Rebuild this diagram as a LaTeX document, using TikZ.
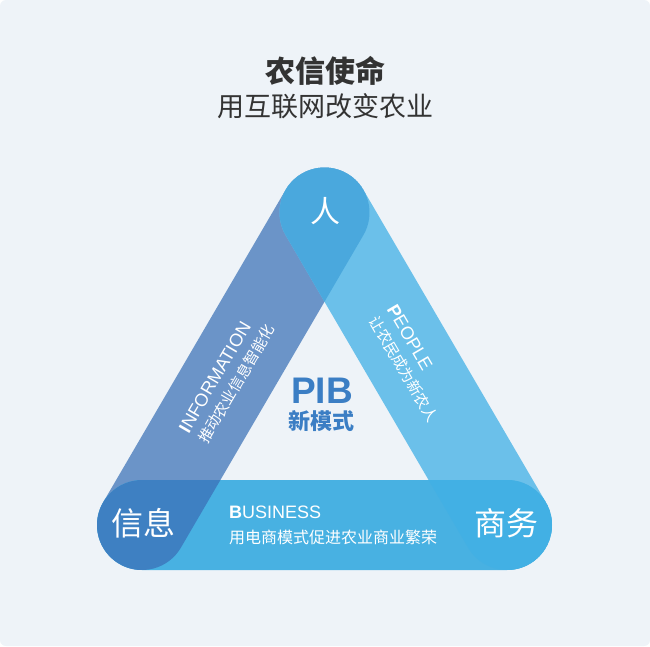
\documentclass[tikz,border=0pt]{standalone}
\usepackage{fontspec}
\setmainfont{Liberation Sans}
\newfontfamily\cjk{Noto Sans CJK SC}
\usepackage{tikz}
\usetikzlibrary{calc}

\definecolor{bgpanel}{HTML}{EEF3F8}
\definecolor{infoband}{HTML}{6B94C8}
\definecolor{peopleband}{HTML}{6BC0EA}
\definecolor{busband}{HTML}{48B1E2}
\definecolor{topmix}{HTML}{4AA8DD}
\definecolor{leftmix}{HTML}{3E80C2}
\definecolor{rightmix}{HTML}{42B0E4}
\definecolor{titlegray}{HTML}{333333}
\definecolor{pibblue}{HTML}{3B7EC4}

% rounded band between two centres, #3 = direction
\newcommand{\band}[3]{($(#1)+(#3+90:45)$) -- ($(#2)+(#3+90:45)$) arc[start angle=#3+90, delta angle=-180, radius=45] -- ($(#1)+(#3-90:45)$) arc[start angle=#3-90, delta angle=-180, radius=45] -- cycle}

\begin{document}
\begin{tikzpicture}[x=1pt,y=-1pt,
  title/.style={text=titlegray,inner sep=0,font=\cjk\bfseries\fontsize{30}{30}\selectfont},
  subtitle/.style={text=titlegray,inner sep=0,font=\cjk\fontsize{27}{27}\selectfont},
  corner/.style={text=white,inner sep=0,font=\cjk\fontsize{32}{32}\selectfont},
  bandhead/.style={anchor=west,text=white,inner sep=0,font=\fontsize{18}{18}\selectfont},
  bandsub/.style={anchor=west,text=white,inner sep=0,font=\cjk\fontsize{15}{15}\selectfont}]
  \useasboundingbox (0,0) rectangle (650,646);
  \fill[white] (0,0) rectangle (650,646);
  \fill[bgpanel,rounded corners=6] (0,0) rectangle (650,646);

  \coordinate (L) at (142,525);
  \coordinate (T) at (324.5,212.5);
  \coordinate (R) at (507,525);

  % the three bands
  \fill[infoband] \band{L}{T}{-59.72};
  \fill[peopleband] \band{T}{R}{59.72};
  \fill[busband] \band{L}{R}{0};
  % where they cross
  \begin{scope}
    \clip \band{L}{T}{-59.72};
    \fill[topmix] \band{T}{R}{59.72};
  \end{scope}
  \begin{scope}
    \clip \band{L}{T}{-59.72};
    \fill[leftmix] \band{L}{R}{0};
  \end{scope}
  \begin{scope}
    \clip \band{T}{R}{59.72};
    \fill[rightmix] \band{L}{R}{0};
  \end{scope}

  \node[title] (motto) at (325,71) {农信使命};
  \node[subtitle] (slogan) at (325,106) {用互联网改变农业};

  \node[corner,font=\cjk\fontsize{30}{30}\selectfont] (ren) at (325,211) {人};
  \node[corner] (xinxi) at (143,523) {信息};
  \node[corner] (shangwu) at (506,523) {商务};

  \node[text=pibblue,inner sep=0,font=\bfseries\fontsize{37}{37}\selectfont] (pib) at (322,391) {PIB};
  \node[text=pibblue,inner sep=0,font=\cjk\bfseries\fontsize{22}{22}\selectfont] (mode) at (321,421) {新模式};

  \node[bandhead,rotate=59.7] (infohead) at (183.3,431.1) {\textbf{I}NFORMATION};
  \node[bandsub,rotate=59.7] (infosub) at (202.2,442.2) {推动农业信息智能化};
  \node[bandhead,rotate=-59.7] (peoplehead) at (391.7,306.3) {\textbf{P}EOPLE};
  \node[bandsub,rotate=-59.7] (peoplesub) at (373.3,317.1) {让农民成为新农人};
  \node[bandhead] (bushead) at (229,512) {\textbf{B}USINESS};
  \node[bandsub,font=\cjk\fontsize{16}{16}\selectfont] (bussub) at (229,537) {用电商模式促进农业商业繁荣};
\end{tikzpicture}
\end{document}
